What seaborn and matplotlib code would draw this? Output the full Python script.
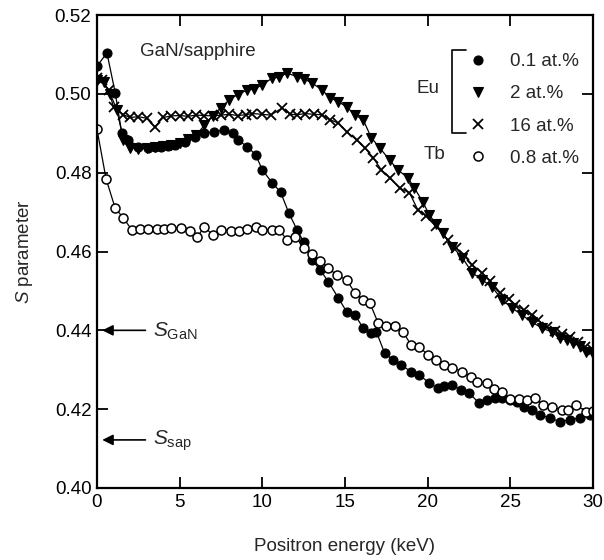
import matplotlib
matplotlib.use("Agg")
import matplotlib.pyplot as plt
import seaborn as sns
import pandas as pd
from matplotlib.lines import Line2D

# ---------------- data ----------------
E_eu01 = [0, 0.6, 1.1, 1.5, 1.9, 2.5, 3.1, 3.5, 3.9, 4.3, 4.7, 5.3, 5.9, 6.5, 7.1, 7.7,
          8.2, 8.5, 9.1, 9.6, 10.0, 10.6, 11.1, 11.6, 12.1, 12.5, 13.0, 13.5, 14.0, 14.6,
          15.1, 15.6, 16.1, 16.6, 16.9, 17.4, 17.9, 18.4, 19.0, 19.5, 20.1, 20.6, 21.0,
          21.5, 22.0, 22.5, 23.1, 23.6, 24.1, 24.5, 25.0, 25.4, 25.8, 26.3, 26.8, 27.4,
          28.0, 28.6, 29.2, 29.8]
S_eu01 = [0.507, 0.5104, 0.5003, 0.490, 0.4883, 0.4866, 0.4863, 0.4866, 0.4866, 0.4868,
          0.487, 0.4878, 0.489, 0.490, 0.4904, 0.4908, 0.490, 0.4883, 0.4866, 0.4845,
          0.4807, 0.4774, 0.4751, 0.4698, 0.4655, 0.4624, 0.4579, 0.4553, 0.4523, 0.4482,
          0.4447, 0.4439, 0.4406, 0.4393, 0.4396, 0.4342, 0.4325, 0.4312, 0.4295, 0.4287,
          0.4266, 0.4254, 0.4258, 0.4261, 0.4249, 0.4241, 0.4216, 0.4223, 0.4228, 0.4228,
          0.4222, 0.4218, 0.4206, 0.4198, 0.4185, 0.4178, 0.4168, 0.4173, 0.4178, 0.4185]

E_eu2 = [0, 0.4, 0.8, 1.2, 1.6, 2.0, 2.5, 3.0, 3.5, 4.0, 4.5, 5.0, 5.5, 6.0, 6.5, 7.0,
         7.5, 8.0, 8.5, 9.1, 9.5, 10.0, 10.6, 11.0, 11.5, 12.1, 12.5, 13.0, 13.6, 14.1,
         14.6, 15.1, 15.6, 16.1, 16.6, 17.1, 17.7, 18.2, 18.8, 19.2, 19.7, 20.1, 20.5,
         20.9, 21.5, 22.1, 22.7, 23.3, 23.9, 24.5, 25.1, 25.7, 26.3, 26.9, 27.5, 28.0,
         28.4, 28.8, 29.2, 29.6, 30.0]
S_eu2 = [0.5035, 0.503, 0.500, 0.496, 0.4883, 0.4863, 0.486, 0.4862, 0.4865, 0.4868,
         0.487, 0.4876, 0.4885, 0.4896, 0.492, 0.4945, 0.4965, 0.4985, 0.4998, 0.501,
         0.5012, 0.5023, 0.504, 0.5042, 0.5053, 0.5043, 0.5038, 0.5028, 0.501, 0.499,
         0.498, 0.4967, 0.4947, 0.4934, 0.4888, 0.4863, 0.4832, 0.4807, 0.4787, 0.4761,
         0.4726, 0.4693, 0.467, 0.4647, 0.4612, 0.4584, 0.4546, 0.4528, 0.451, 0.4477,
         0.4457, 0.4439, 0.4421, 0.4406, 0.4396, 0.438, 0.4375, 0.4368, 0.436, 0.4345,
         0.434]

E_eu16 = [0, 0.3, 0.7, 1.0, 1.6, 2.0, 2.5, 3.0, 3.5, 4.0, 4.5, 5.0, 5.5, 6.0, 6.5, 7.0,
          7.5, 8.0, 8.5, 9.0, 9.4, 10.0, 10.5, 11.2, 11.7, 12.1, 12.6, 13.1, 13.6, 14.1,
          14.6, 15.1, 15.7, 16.2, 16.7, 17.2, 17.7, 18.3, 18.9, 19.4, 19.9, 20.5, 21.2,
          21.7, 22.2, 22.7, 23.3, 23.8, 24.4, 24.9, 25.3, 25.8, 26.3, 26.7, 27.2, 27.7,
          28.1, 28.6, 29.1, 29.5, 30.0]
S_eu16 = [0.504, 0.5035, 0.501, 0.4967, 0.4947, 0.494, 0.4942, 0.4938, 0.4916, 0.494,
          0.4944, 0.4945, 0.4943, 0.4946, 0.4945, 0.4944, 0.4946, 0.4948, 0.4945, 0.4947,
          0.495, 0.4948, 0.4946, 0.4964, 0.4948, 0.4947, 0.495, 0.4948, 0.4947, 0.4934,
          0.4926, 0.4904, 0.4883, 0.4863, 0.4838, 0.4807, 0.4787, 0.4761, 0.4749, 0.4706,
          0.469, 0.4665, 0.463, 0.461, 0.459, 0.4566, 0.4545, 0.4525, 0.4495, 0.448,
          0.4465, 0.4452, 0.4438, 0.4425, 0.4409, 0.4398, 0.439, 0.4383, 0.437, 0.4358,
          0.435]

E_tb = [0, 0.55, 1.1, 1.6, 2.1, 2.6, 3.1, 3.6, 4.05, 4.5, 5.1, 5.6, 6.05, 6.5, 7.0, 7.5,
        8.1, 8.6, 9.1, 9.6, 10.0, 10.6, 11.0, 11.5, 12.0, 12.5, 13.0, 13.5, 14.0, 14.5,
        15.1, 15.6, 16.1, 16.5, 17.0, 17.5, 18.0, 18.5, 19.0, 19.5, 20.0, 20.5, 21.0,
        21.5, 22.1, 22.6, 23.0, 23.6, 24.0, 24.5, 25.0, 25.5, 26.0, 26.5, 27.0, 27.5,
        28.1, 28.5, 29.0, 29.6, 30.0]
S_tb = [0.491, 0.4784, 0.471, 0.4685, 0.4655, 0.4657, 0.4657, 0.4657, 0.4657, 0.466,
        0.466, 0.4652, 0.4637, 0.4662, 0.4642, 0.4655, 0.4652, 0.4652, 0.4657, 0.4662,
        0.4655, 0.4655, 0.4655, 0.463, 0.4637, 0.461, 0.4594, 0.4576, 0.4558, 0.454,
        0.4528, 0.4495, 0.4477, 0.447, 0.4419, 0.441, 0.441, 0.4396, 0.4363, 0.4358,
        0.4338, 0.4325, 0.4312, 0.4305, 0.4295, 0.4282, 0.4269, 0.4266, 0.4251, 0.4244,
        0.4226, 0.4226, 0.4223, 0.4228, 0.421, 0.4206, 0.4198, 0.4198, 0.421, 0.4193,
        0.4195]

legend_labels = ["0.1 at.%", "2 at.%", "16 at.%", "0.8 at.%"]

# ---------------- style ----------------
sns.set_theme(style="ticks")
plt.rcParams["font.family"] = ["Liberation Sans", "DejaVu Sans"]
plt.rcParams["mathtext.fontset"] = "custom"
plt.rcParams["mathtext.rm"] = "Liberation Sans"
plt.rcParams["mathtext.it"] = "Liberation Sans:italic"

fig = plt.figure(figsize=(6.04, 5.6), dpi=100)
ax = fig.add_axes([97 / 604, 1 - 488 / 560, 496 / 604, 473 / 560])

series = [
    (E_eu01, S_eu01, dict(marker="o", ms=6.5, mfc="black", mec="black", mew=0.8)),
    (E_eu2, S_eu2, dict(marker="v", ms=6.5, mfc="black", mec="black", mew=0.8)),
    (E_eu16, S_eu16, dict(marker="x", ms=7.5, mfc="black", mec="black", mew=1.3)),
    (E_tb, S_tb, dict(marker="o", ms=6.5, mfc="white", mec="black", mew=1.1)),
]
for (E, S, st) in series:
    df = pd.DataFrame({"E": E, "S": S})
    sns.lineplot(data=df, x="E", y="S", ax=ax, color="black", lw=0.9,
                 estimator=None, sort=False, legend=False, **st)

ax.set_xlim(0, 30)
ax.set_ylim(0.40, 0.52)
ax.set_xticks([0, 5, 10, 15, 20, 25, 30])
ax.set_yticks([0.40, 0.42, 0.44, 0.46, 0.48, 0.50, 0.52])
ax.set_yticklabels(["0.40", "0.42", "0.44", "0.46", "0.48", "0.50", "0.52"])
ax.tick_params(direction="in", length=8, width=1.3, labelsize=13.5, top=True, right=True,
               pad=4, colors="black")
for sp in ax.spines.values():
    sp.set_linewidth(1.6)
    sp.set_color("black")

ax.set_xlabel("Positron energy (keV)", fontsize=13.5, labelpad=20)
ax.set_ylabel(r"$\mathit{S}$ parameter", fontsize=13.5, labelpad=14)

ax.text(2.6, 0.5108, "GaN/sapphire", fontsize=13.5, va="center", ha="left")

# reference arrows
ax.annotate("", xy=(0.15, 0.440), xytext=(3.1, 0.440),
            arrowprops=dict(arrowstyle="-|>", color="black", lw=1.2, mutation_scale=16))
ax.text(3.4, 0.4398, r"$\mathit{S}_{\rm GaN}$", fontsize=15, va="center", ha="left")
ax.annotate("", xy=(0.15, 0.4122), xytext=(3.1, 0.4122),
            arrowprops=dict(arrowstyle="-|>", color="black", lw=1.2, mutation_scale=16))
ax.text(3.4, 0.412, r"$\mathit{S}_{\rm sap}$", fontsize=15, va="center", ha="left")

# legend with bracket
handles = [Line2D([], [], ls="none", color="black", **st) for (_, _, st) in series]
leg = ax.legend(handles, legend_labels, loc="upper left", bbox_to_anchor=(0.735, 0.935),
                frameon=False, fontsize=13.5, handlelength=1.0, handletextpad=1.2,
                labelspacing=0.8, borderaxespad=0)
ax.text(20.0, 0.5013, "Eu", fontsize=13.5, ha="center", va="center")
ax.text(20.4, 0.4845, "Tb", fontsize=13.5, ha="center", va="center")
ax.plot([22.3, 21.5, 21.5, 22.3], [0.5112, 0.5112, 0.4901, 0.4901], color="black", lw=1.2)

fig.savefig("out.png", dpi=100)
